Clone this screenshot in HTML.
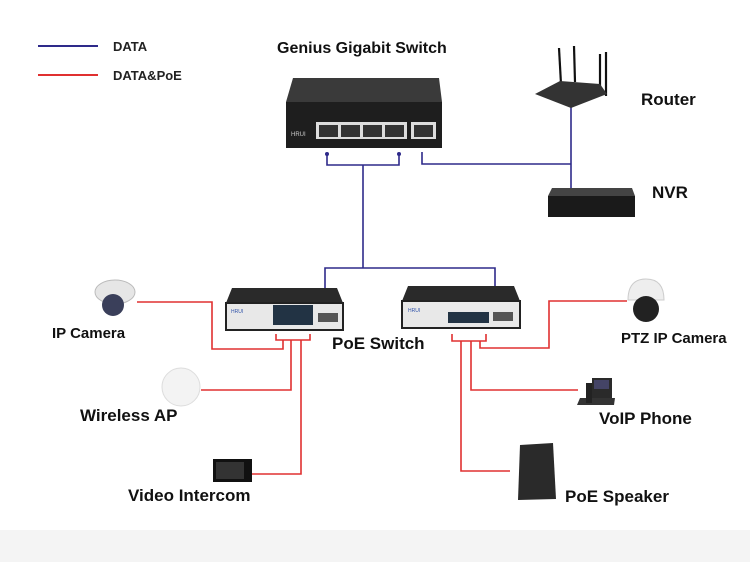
<!DOCTYPE html>
<html><head><meta charset="utf-8"><style>
html,body{margin:0;padding:0;background:#fff;}
svg{display:block;font-family:"Liberation Sans","DejaVu Sans",sans-serif;}
</style></head><body>
<svg width="750" height="562" viewBox="0 0 750 562" xmlns="http://www.w3.org/2000/svg">
<rect width="750" height="562" fill="#fff"/>
<rect y="530" width="750" height="32" fill="#f4f4f4"/>
<!-- legend -->
<line x1="38" y1="46" x2="98" y2="46" stroke="#2e2a8a" stroke-width="2"/>
<text x="113" y="51" font-size="13" font-weight="bold" fill="#222">DATA</text>
<line x1="38" y1="75" x2="98" y2="75" stroke="#e03030" stroke-width="2"/>
<text x="113" y="80" font-size="13" font-weight="bold" fill="#222">DATA&amp;PoE</text>
<text x="277" y="53" font-size="16" font-weight="bold" fill="#111">Genius Gigabit Switch</text>

<!-- blue connections -->
<g stroke="#2e2a8a" stroke-width="1.6" fill="none">
<polyline points="327,155 327,165 399,165 399,155"/>
<line x1="363" y1="165" x2="363" y2="268"/>
<polyline points="325,290 325,268 495,268 495,287"/>
<polyline points="422,152 422,164 571,164"/>
<line x1="571" y1="106" x2="571" y2="190"/>
</g>
<circle cx="327" cy="154" r="2" fill="#2e2a8a"/><circle cx="399" cy="154" r="2" fill="#2e2a8a"/>

<!-- red connections -->
<g stroke="#e03030" stroke-width="1.6" fill="none">
<polyline points="137,302 212,302 212,349 283,349 283,340"/>
<polyline points="276,334 276,340 310,340 310,334"/>
<polyline points="291,340 291,390 201,390"/>
<polyline points="301,340 301,474 252,474"/>
<polyline points="452,334 452,341 486,341 486,334"/>
<polyline points="461,341 461,471 510,471"/>
<polyline points="471,341 471,390 578,390"/>
<polyline points="480,341 480,348 549,348 549,301 627,301"/>
</g>

<!-- main switch -->
<polygon points="293,78 439,78 442,102 286,102" fill="#3a3a3a"/>
<rect x="286" y="102" width="156" height="46" fill="#1e1e1e"/>
<rect x="316" y="122" width="91" height="17" fill="#ddd"/>
<rect x="319" y="125" width="19" height="12" fill="#333"/><rect x="341" y="125" width="19" height="12" fill="#333"/><rect x="363" y="125" width="19" height="12" fill="#333"/><rect x="385" y="125" width="19" height="12" fill="#333"/>
<rect x="411" y="122" width="25" height="17" fill="#ddd"/><rect x="414" y="125" width="19" height="12" fill="#333"/>
<text x="291" y="136" font-size="6" fill="#ccc">HRUI</text>

<!-- router -->
<g stroke="#111" stroke-width="2.2"><line x1="559" y1="48" x2="561" y2="84"/><line x1="574" y1="46" x2="575" y2="82"/><line x1="600" y1="54" x2="600" y2="90"/><line x1="606" y1="52" x2="606" y2="96"/></g>
<polygon points="535,94 560,81 600,84 607,94 571,108" fill="#333"/>
<text x="641" y="105" font-size="17" font-weight="bold" fill="#111">Router</text>
<!-- NVR -->
<polygon points="552,188 632,188 635,196 548,196" fill="#444"/>
<rect x="548" y="196" width="87" height="21" fill="#1a1a1a"/>
<text x="652" y="198" font-size="17" font-weight="bold" fill="#111">NVR</text>

<!-- left poe switch -->
<polygon points="232,288 337,288 343,303 226,303" fill="#2a2a2a"/>
<rect x="226" y="303" width="117" height="27" fill="#e8e8e8" stroke="#222" stroke-width="2"/>
<rect x="273" y="305" width="40" height="20" fill="#234"/>
<rect x="318" y="313" width="20" height="9" fill="#555"/>
<text x="231" y="313" font-size="5" fill="#35a">HRUI</text>
<!-- right poe switch -->
<polygon points="408,286 514,286 520,301 402,301" fill="#2a2a2a"/>
<rect x="402" y="301" width="118" height="27" fill="#e8e8e8" stroke="#222" stroke-width="2"/>
<rect x="448" y="312" width="41" height="11" fill="#234"/>
<rect x="493" y="312" width="20" height="9" fill="#555"/>
<text x="408" y="312" font-size="5" fill="#35a">HRUI</text>
<text x="332" y="349" font-size="17" font-weight="bold" fill="#111">PoE Switch</text>

<!-- IP camera -->
<ellipse cx="115" cy="292" rx="20" ry="12" fill="#e6e6e6" stroke="#bbb"/>
<circle cx="113" cy="305" r="11" fill="#3a3f5a"/>
<text x="52" y="338" font-size="15" font-weight="bold" fill="#111">IP Camera</text>
<!-- AP -->
<circle cx="181" cy="387" r="19" fill="#f3f3f3" stroke="#ddd"/>
<text x="80" y="421" font-size="17" font-weight="bold" fill="#111">Wireless AP</text>
<!-- intercom -->
<rect x="213" y="459" width="39" height="23" fill="#111"/>
<rect x="216" y="462" width="28" height="17" fill="#333"/>
<text x="128" y="501" font-size="17" font-weight="bold" fill="#111">Video Intercom</text>

<!-- PTZ -->
<path d="M628,300 Q628,279 646,279 Q664,279 664,300 Z" fill="#eee" stroke="#ccc"/>
<ellipse cx="646" cy="309" rx="13" ry="13" fill="#222"/>
<text x="621" y="343" font-size="15" font-weight="bold" fill="#111">PTZ IP Camera</text>
<!-- phone -->
<polygon points="580,398 615,398 614,405 577,405" fill="#333"/>
<rect x="592" y="378" width="20" height="20" fill="#2a2a2a"/>
<rect x="594" y="380" width="15" height="9" fill="#446"/>
<rect x="586" y="383" width="6" height="20" fill="#222"/>
<text x="599" y="424" font-size="17" font-weight="bold" fill="#111">VoIP Phone</text>
<!-- speaker -->
<polygon points="520,445 553,443 556,499 518,500" fill="#2a2a2a"/>
<text x="565" y="502" font-size="17" font-weight="bold" fill="#111">PoE Speaker</text>
</svg>
</body></html>
